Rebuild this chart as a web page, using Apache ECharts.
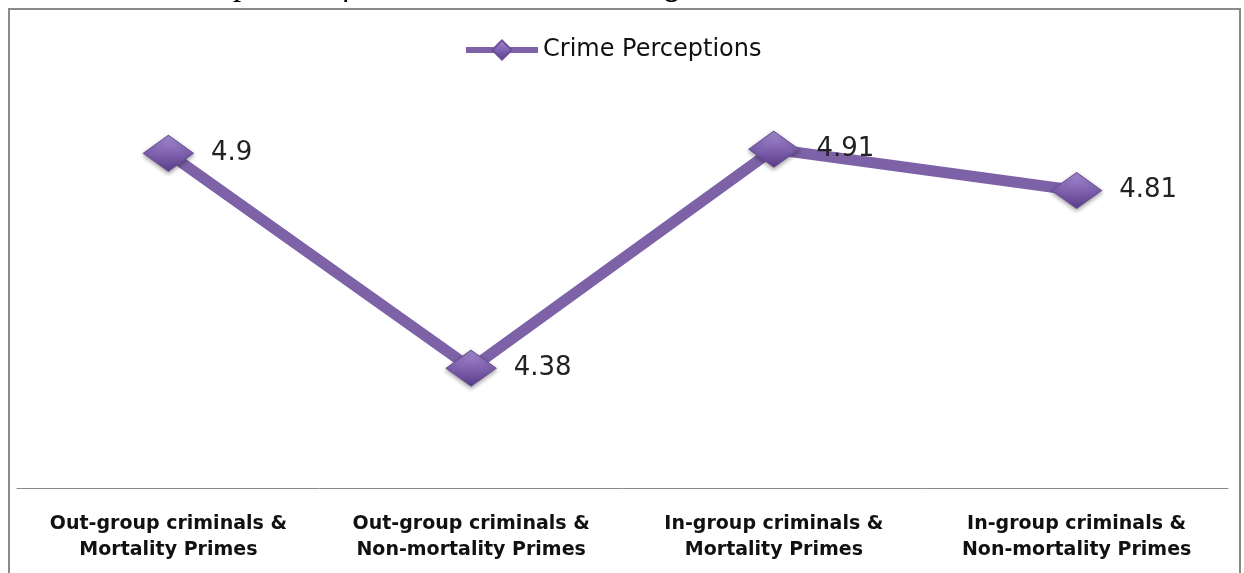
<!DOCTYPE html>
<html>
<head>
<meta charset="utf-8">
<script src="https://cdn.jsdelivr.net/npm/echarts@6/dist/echarts.min.js"></script>
<style>
html,body{margin:0;padding:0;background:#fff;}
#chart{width:1244px;height:573px;}
</style>
</head>
<body>
<div id="chart"></div>
<script>
const categories = [
  'Out-group criminals &\nMortality Primes',
  'Out-group criminals &\nNon-mortality Primes',
  'In-group criminals &\nMortality Primes',
  'In-group criminals &\nNon-mortality Primes'
];
const seriesName = 'Crime Perceptions';
const crimePerceptions = [4.9, 4.38, 4.91, 4.81];
const titleFragment = 'Variation in Perceptions of Criminals and Coverage';

const chart = echarts.init(document.getElementById('chart'), null, {renderer: 'canvas'});
const diamondFill = new echarts.graphic.LinearGradient(0, 0, 0, 1, [
  {offset: 0, color: '#a88dd4'},
  {offset: 0.5, color: '#8063b0'},
  {offset: 1, color: '#583d8a'}
]);
chart.setOption({
  animation: false,
  backgroundColor: '#ffffff',
  graphic: [
    {
      type: 'rect', silent: true, z: -1,
      shape: {x: 9, y: 9, width: 1231, height: 600},
      style: {fill: 'none', stroke: '#8a8a8a', lineWidth: 2}
    },
    {
      type: 'text', silent: true,
      x: 698, y: 3,
      style: {
        text: titleFragment, align: 'right', verticalAlign: 'bottom',
        font: 'italic 34px "Liberation Serif"', fill: '#000'
      }
    }
  ],
  legend: {
    top: 33, left: 458,
    itemWidth: 72, itemHeight: 24, itemGap: 6,
    lineStyle: {width: 6, color: '#7e62a8'},
    textStyle: {fontFamily: 'DejaVu Sans', fontSize: 24, color: '#111'},
    data: [seriesName]
  },
  grid: {left: 17, right: 16, top: 112, bottom: 85, containLabel: false},
  xAxis: {
    type: 'category',
    data: categories,
    boundaryGap: true,
    axisLine: {show: true, lineStyle: {color: '#8a8a8a', width: 1}},
    axisTick: {show: false},
    axisLabel: {
      interval: 0, margin: 23,
      fontFamily: 'DejaVu Sans', fontWeight: 'bold', fontSize: 19,
      lineHeight: 26, color: '#111'
    }
  },
  yAxis: {
    type: 'value', min: 4.09, max: 5.0,
    show: false, splitLine: {show: false}
  },
  series: [{
    name: seriesName,
    type: 'line',
    data: crimePerceptions,
    symbol: 'diamond',
    symbolSize: [50, 36],
    lineStyle: {color: '#7e62a8', width: 11},
    itemStyle: {
      color: diamondFill, borderColor: '#6b4e98', borderWidth: 1,
      shadowColor: 'rgba(0,0,0,0.35)', shadowBlur: 4, shadowOffsetY: 2
    },
    label: {
      show: true, position: 'right', distance: 17,
      fontFamily: 'DejaVu Sans', fontSize: 26, color: '#222'
    },
    z: 3
  }]
});
</script>
</body>
</html>
